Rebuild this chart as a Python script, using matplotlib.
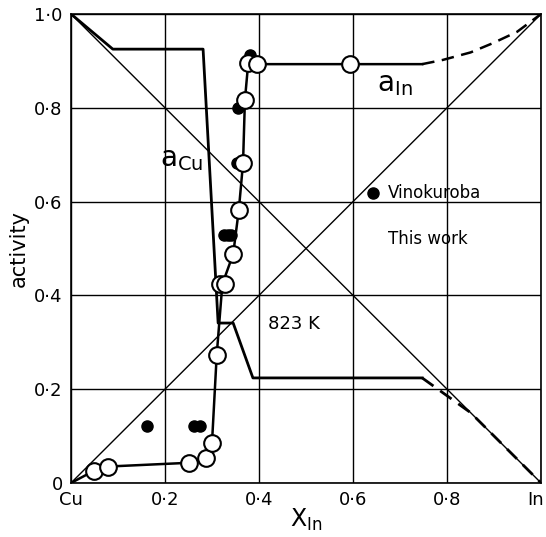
import numpy as np
import matplotlib.pyplot as plt
import matplotlib.transforms as mtransforms

# open circles, this work
x_work = [0.049, 0.078, 0.250, 0.287, 0.300, 0.310, 0.317, 0.328, 0.345, 0.357,
          0.366, 0.370, 0.377, 0.396, 0.594]
a_work = [0.026, 0.035, 0.043, 0.054, 0.086, 0.273, 0.424, 0.424, 0.488, 0.582,
          0.682, 0.817, 0.895, 0.893, 0.893]

# filled circles, Vinokuroba
x_vin = [0.161, 0.262, 0.275, 0.325, 0.333, 0.340, 0.353, 0.355, 0.381]
a_vin = [0.122, 0.122, 0.122, 0.529, 0.529, 0.529, 0.682, 0.800, 0.913]

# a_In curve
x_in = [0.0, 0.049, 0.078, 0.250, 0.287, 0.300, 0.310, 0.322, 0.345, 0.357,
        0.366, 0.370, 0.377, 0.396, 0.594, 0.747]
a_in = [0.0, 0.026, 0.035, 0.043, 0.054, 0.086, 0.273, 0.424, 0.488, 0.582,
        0.682, 0.817, 0.895, 0.893, 0.893, 0.893]
x_in_d = [0.747, 0.791, 0.850, 0.898, 0.949, 1.0]
a_in_d = [0.893, 0.902, 0.918, 0.938, 0.962, 1.0]

# a_Cu curve
x_cu = [0.0, 0.089, 0.281, 0.313, 0.345, 0.387, 0.747]
a_cu = [1.0, 0.925, 0.925, 0.341, 0.341, 0.224, 0.224]
x_cu_d = [0.747, 0.85, 1.0]
a_cu_d = [0.224, 0.150, 0.0]

ticks = [0, 0.2, 0.4, 0.6, 0.8, 1.0]
xlabels = ['Cu', '0·2', '0·4', '0·6', '0·8', 'In']
ylabels = ['0', '0·2', '0·4', '0·6', '0·8', '1·0']

fig = plt.figure(figsize=(5.46, 5.37), dpi=100)
ax = fig.add_axes([0.130, 0.1006, 0.861, 0.8734])

for t in ticks:
    ax.axhline(t, color='black', lw=1.0, zorder=0)
    ax.axvline(t, color='black', lw=1.0, zorder=0)

ax.plot([0, 1], [0, 1], color='black', lw=1.0)
ax.plot([0, 1], [1, 0], color='black', lw=1.0)

ax.plot(x_cu, a_cu, color='black', lw=2.0)
ax.plot(x_cu_d, a_cu_d, color='black', lw=2.0, ls=(0, (5, 3)))
ax.plot(x_in, a_in, color='black', lw=1.8)
ax.plot(x_in_d, a_in_d, color='black', lw=1.8, ls=(0, (5, 3)))

ax.plot(x_vin, a_vin, 'o', color='black', ms=8, zorder=3)
ax.plot(x_work, a_work, 'o', mfc='white', mec='black', mew=1.5, ms=12, zorder=4)

ax.plot([0.642], [0.618], 'o', color='black', ms=8)
ax.text(0.675, 0.618, 'Vinokuroba', fontsize=12, va='center')
ax.text(0.675, 0.52, 'This work', fontsize=12, va='center')
ax.text(0.19, 0.69, r'$\mathregular{a_{Cu}}$', fontsize=20, va='center')
ax.text(0.65, 0.85, r'$\mathregular{a_{In}}$', fontsize=20, va='center')
ax.text(0.42, 0.34, '823 K', fontsize=13, va='center')

ax.set_xlim(0, 1)
ax.set_ylim(0, 1)
ax.set_xticks(ticks)
ax.set_xticklabels(xlabels, fontsize=13)
ax.set_yticks(ticks)
ax.set_yticklabels(ylabels, fontsize=13)
ax.tick_params(length=0, pad=6)
# shift the last x label ("In") left so it stays inside the figure
last = ax.get_xticklabels()[-1]
last.set_transform(last.get_transform() +
                   mtransforms.ScaledTranslation(-0.06, 0, fig.dpi_scale_trans))
for s in ax.spines.values():
    s.set_linewidth(1.2)
ax.set_xlabel(r'$\mathregular{X_{In}}$', fontsize=17)
ax.xaxis.set_label_coords(0.5, -0.05, transform=ax.transAxes)
ax.xaxis.label.set_va('top')
ax.set_ylabel('activity', fontsize=15)

fig.savefig('out.png', dpi=100)
